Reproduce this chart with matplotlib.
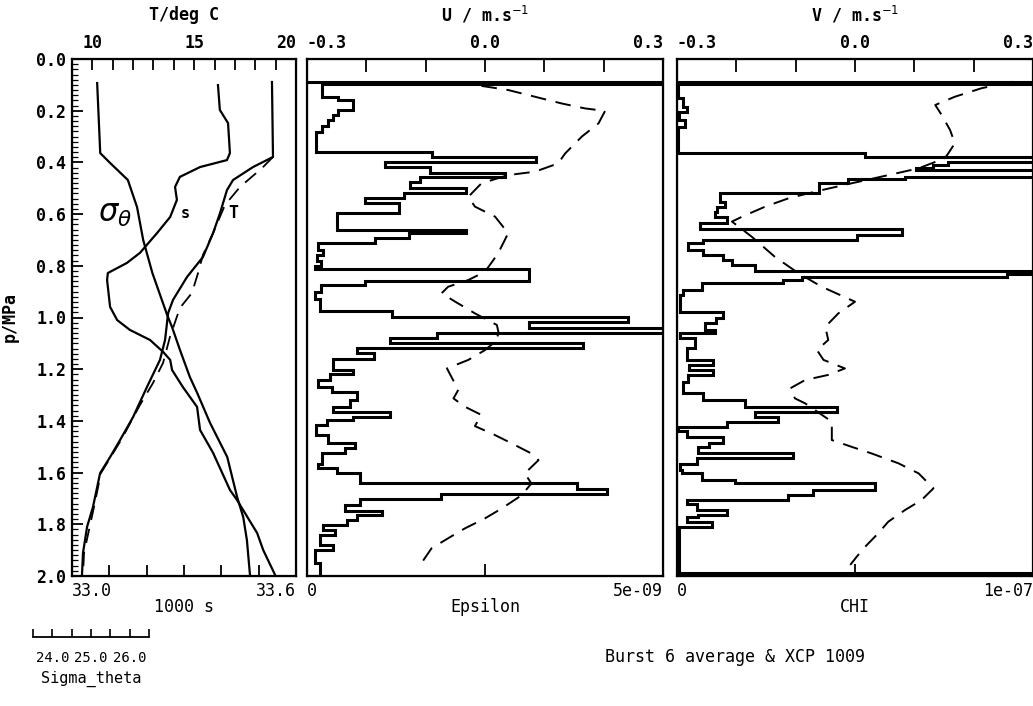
import numpy as np
import matplotlib.pyplot as plt

plt.rcParams['font.family'] = ['DejaVu Sans Mono']
plt.rcParams['mathtext.fontset'] = 'dejavusans'

# ---------------- left panel: CTD profiles (pressure in MPa) ----------------
p_T = [0.089, 0.379, 0.418, 0.468, 0.507, 0.596, 0.673, 0.766, 0.843, 0.932, 0.983,
       1.087, 1.164, 1.269, 1.385, 1.474, 1.540, 1.602, 1.733, 1.810, 1.911, 1.996]
T_ctd = [18.82, 18.87, 17.89, 16.91, 16.61, 16.27, 15.93, 15.43, 14.65, 13.96, 13.72,
         13.57, 13.32, 12.68, 12.00, 11.36, 10.87, 10.38, 10.03, 9.74, 9.54, 9.49]

p_Tx = [0.379, 0.422, 0.495, 0.565, 0.673, 0.758, 0.828, 0.905, 0.963, 1.075, 1.176,
        1.253, 1.338, 1.474, 1.602, 1.733, 1.911, 1.996]
T_xcp = [18.87, 18.33, 17.25, 16.51, 15.93, 15.43, 15.19, 14.89, 14.30, 13.81, 13.47,
         12.98, 12.34, 11.41, 10.42, 10.08, 9.59, 9.54]

p_S = [0.101, 0.197, 0.248, 0.364, 0.391, 0.418, 0.456, 0.495, 0.545, 0.611, 0.673,
       0.750, 0.789, 0.828, 0.855, 0.959, 1.010, 1.048, 1.087, 1.133, 1.164, 1.203,
       1.269, 1.346, 1.435, 1.524, 1.667, 1.706, 1.834, 1.899, 1.996]
S_ctd = [33.391, 33.396, 33.418, 33.423, 33.415, 33.343, 33.289, 33.276, 33.281, 33.263,
         33.228, 33.182, 33.147, 33.096, 33.094, 33.102, 33.121, 33.155, 33.209, 33.244,
         33.263, 33.268, 33.297, 33.335, 33.343, 33.378, 33.423, 33.442, 33.496, 33.512,
         33.544]

p_sig = [0.093, 0.364, 0.402, 0.468, 0.573, 0.700, 0.828, 0.990, 1.037, 1.126, 1.230,
         1.292, 1.408, 1.540, 1.694, 1.772, 1.861, 1.996]
sigma_theta = [23.61, 23.66, 23.82, 24.11, 24.26, 24.36, 24.51, 24.75, 24.83, 24.96, 25.12,
               25.24, 25.45, 25.73, 25.89, 25.99, 26.05, 26.10]

# ---------------- middle panel: epsilon (units 1e-9) and U ----------------
P_BOTTOM = 2.0
eps_top = [0.088, 0.098, 0.146, 0.159, 0.197, 0.217, 0.236, 0.259, 0.281, 0.358, 0.378,
           0.397, 0.417, 0.442, 0.455, 0.475, 0.500, 0.520, 0.539, 0.558, 0.597, 0.662,
           0.674, 0.694, 0.713, 0.740, 0.760, 0.780, 0.800, 0.814, 0.857, 0.874, 0.900,
           0.930, 0.974, 0.997, 1.016, 1.042, 1.061, 1.081, 1.100, 1.119, 1.136, 1.162,
           1.203, 1.219, 1.242, 1.268, 1.287, 1.319, 1.345, 1.364, 1.384, 1.397, 1.416,
           1.455, 1.487, 1.506, 1.526, 1.565, 1.584, 1.603, 1.642, 1.662, 1.683, 1.704,
           1.725, 1.747, 1.764, 1.783, 1.803, 1.822, 1.842, 1.880, 1.900, 1.950]
eps_val = [8.0, 0.21, 0.44, 0.65, 0.44, 0.37, 0.30, 0.21, 0.13, 1.75, 3.22,
           1.10, 1.73, 2.78, 1.59, 1.45, 2.24, 1.36, 0.82, 1.29, 0.42, 2.24,
           1.43, 0.96, 0.16, 0.23, 0.14, 0.20, 0.12, 3.11, 0.82, 0.20, 0.12,
           0.18, 1.19, 4.51, 3.11, 8.0, 1.82, 1.17, 3.88, 0.70, 0.95, 0.37,
           0.65, 0.33, 0.16, 0.35, 0.70, 0.61, 0.37, 1.17, 0.65, 0.28, 0.13,
           0.30, 0.68, 0.54, 0.21, 0.16, 0.42, 0.75, 3.79, 4.21, 1.89, 0.75,
           0.54, 1.05, 0.70, 0.56, 0.23, 0.40, 0.19, 0.37, 0.12, 0.18]

p_U = [0.104, 0.120, 0.146, 0.172, 0.191, 0.201, 0.249, 0.300, 0.365, 0.404, 0.436,
       0.449, 0.481, 0.533, 0.571, 0.610, 0.674, 0.752, 0.823, 0.855, 0.881, 0.906,
       0.939, 0.984, 1.029, 1.061, 1.094, 1.126, 1.164, 1.197, 1.280, 1.313, 1.345,
       1.377, 1.420, 1.455, 1.487, 1.526, 1.552, 1.603, 1.642, 1.687, 1.739, 1.777,
       1.816, 1.854, 1.893, 1.957]
U = [-0.006, 0.039, 0.084, 0.129, 0.168, 0.202, 0.191, 0.163, 0.135, 0.123, 0.084,
     0.039, -0.006, -0.028, -0.017, 0.017, 0.039, 0.022, 0.000, -0.028, -0.062, -0.073,
     -0.050, -0.017, 0.020, 0.023, 0.017, 0.000, -0.028, -0.064, -0.045, -0.053, -0.034,
     -0.006, -0.017, 0.017, 0.045, 0.078, 0.090, 0.067, 0.078, 0.062, 0.028, 0.000,
     -0.034, -0.062, -0.090, -0.109]

# ---------------- right panel: CHI (units 1e-7) and V ----------------
chi_top = [0.088, 0.098, 0.150, 0.186, 0.205, 0.236, 0.263, 0.362, 0.381, 0.397, 0.410,
           0.420, 0.430, 0.457, 0.466, 0.478, 0.517, 0.552, 0.571, 0.590, 0.610, 0.636,
           0.659, 0.681, 0.700, 0.713, 0.739, 0.758, 0.777, 0.797, 0.819, 0.832, 0.842,
           0.855, 0.868, 0.894, 0.913, 0.977, 1.003, 1.022, 1.048, 1.061, 1.081, 1.119,
           1.164, 1.184, 1.203, 1.222, 1.248, 1.293, 1.319, 1.345, 1.364, 1.384, 1.403,
           1.423, 1.440, 1.461, 1.487, 1.500, 1.526, 1.545, 1.565, 1.590, 1.603, 1.629,
           1.642, 1.667, 1.687, 1.706, 1.721, 1.745, 1.764, 1.771, 1.790, 1.809, 1.990]
chi_val = [1.3, 0.004, 0.019, 0.028, 0.006, 0.022, 0.004, 0.528, 1.3, 0.76, 0.72,
           0.67, 1.3, 0.64, 0.48, 0.40, 0.121, 0.136, 0.112, 0.107, 0.14, 0.065,
           0.631, 0.505, 0.075, 0.033, 0.075, 0.131, 0.154, 0.22, 1.3, 0.925, 0.35,
           0.299, 0.07, 0.019, 0.008, 0.131, 0.11, 0.08, 0.107, 0.01, 0.051, 0.028,
           0.103, 0.035, 0.103, 0.033, 0.019, 0.075, 0.192, 0.449, 0.22, 0.285, 0.14,
           0.005, 0.028, 0.131, 0.09, 0.061, 0.327, 0.056, 0.01, 0.015, 0.07, 0.164,
           0.556, 0.383, 0.313, 0.028, 0.056, 0.14, 0.061, 0.028, 0.098, 0.006, 1.3]

p_V = [0.088, 0.113, 0.146, 0.178, 0.217, 0.275, 0.326, 0.365, 0.384, 0.423, 0.481,
       0.513, 0.539, 0.571, 0.610, 0.629, 0.687, 0.765, 0.829, 0.881, 0.939, 0.984,
       1.036, 1.087, 1.126, 1.164, 1.197, 1.222, 1.242, 1.274, 1.313, 1.332, 1.403,
       1.474, 1.500, 1.526, 1.564, 1.603, 1.661, 1.706, 1.745, 1.790, 1.835, 1.887,
       1.925, 1.957]
V = [0.264, 0.213, 0.168, 0.135, 0.146, 0.160, 0.168, 0.157, 0.151, 0.107, -0.006,
     -0.067, -0.112, -0.151, -0.190, -0.207, -0.174, -0.135, -0.095, -0.056, 0.000, -0.028,
     -0.050, -0.045, -0.064, -0.053, -0.017, -0.045, -0.084, -0.109, -0.101, -0.084, -0.039,
     -0.039, -0.006, 0.028, 0.073, 0.107, 0.132, 0.112, 0.084, 0.056, 0.039, 0.017,
     0.003, -0.008]

sig_scale_ticks = [23.5, 24.0, 24.5, 25.0, 25.5, 26.0, 26.5]
sig_scale_labels = ['', '24.0', '', '25.0', '', '26.0', '']

# ---------------- layout ----------------
W, H = 1033, 706
fig = plt.figure(figsize=(W / 100, H / 100), dpi=100)


def panel(x0, y0, x1, y1):
    return fig.add_axes([x0 / W, 1 - y1 / H, (x1 - x0) / W, (y1 - y0) / H])


def frame(ax):
    for s in ax.spines.values():
        s.set_linewidth(1.6)
    ax.set_ylim(P_BOTTOM, 0.0)


def end_align(labels):
    labels[0].set_ha('left')
    labels[-1].set_ha('right')


DASH = (0, (8, 5))
BOLD = dict(fontweight='bold', fontsize=12)

# left panel
ax = panel(72, 59, 296, 576)
frame(ax)
ax.set_xlim(33.0, 33.6)
ax.set_xticks(np.round(np.arange(33.0, 33.61, 0.1), 1), ['33.0', '', '', '', '', '', '33.6'])
ax.tick_params(axis='x', direction='in', length=8, width=1.3, pad=4, labelsize=12)
end_align(ax.get_xticklabels())
ax.set_yticks(np.round(np.arange(0, 2.01, 0.2), 1))
ax.set_yticks(np.arange(0, 2.001, 0.02), minor=True)
ax.yaxis.set_major_formatter('{x:.1f}')
ax.tick_params(axis='y', which='major', direction='in', length=8, width=1.3, pad=4,
               labelsize=12)
ax.tick_params(axis='y', which='minor', direction='in', length=4, width=0.9)
for lab in ax.get_yticklabels():
    lab.set_fontweight('bold')
ax.set_ylabel('p/MPa', **BOLD)
ax.yaxis.set_label_coords(-0.237, 0.5)
ax.plot(S_ctd, p_S, color='k', lw=1.6)
ax.text(33.303, 0.596, 's', ha='center', va='center', fontsize=11, fontweight='bold')

axT = ax.twiny()
axT.set_xlim(9, 20)
axT.set_xticks(range(9, 21), ['', '10', '', '', '', '', '15', '', '', '', '', '20'])
axT.tick_params(axis='x', direction='in', length=8, width=1.3, pad=5, labelsize=12)
axT.get_xticklabels()[-1].set_ha('right')
for lab in axT.get_xticklabels():
    lab.set_fontweight('bold')
axT.plot(T_ctd, p_T, color='k', lw=1.6)
axT.plot(T_xcp, p_Tx, color='k', lw=1.3, ls=DASH)
axT.text(16.91, 0.596, 'T', ha='center', va='center', fontsize=12, fontweight='bold')

axs = ax.twiny()
axs.set_xlim(23.2, 26.85)
axs.axis('off')
axs.plot(sigma_theta, p_sig, color='k', lw=1.6)
axs.text(23.90, 0.60, r'$\sigma_\theta$', ha='center', va='center', fontsize=22)

# middle panel
ax2 = panel(306.7, 59, 663.3, 576)
frame(ax2)
ax2.set_xlim(0, 5)
ax2.set_xticks([0, 2.5, 5], ['0', '', '5e-09'])
ax2.tick_params(axis='x', direction='in', length=9, width=1.3, pad=4, labelsize=12)
end_align(ax2.get_xticklabels())
ax2.set_yticks([])
ax2.stairs(eps_val, eps_top + [P_BOTTOM], orientation='horizontal', baseline=0,
           color='k', lw=2.2)

ax2u = ax2.twiny()
ax2u.set_xlim(-0.3, 0.3)
ax2u.set_xticks(np.round(np.arange(-0.3, 0.31, 0.1), 1),
                ['-0.3', '', '', '0.0', '', '', '0.3'])
ax2u.tick_params(axis='x', direction='in', length=9, width=1.3, pad=5, labelsize=12)
end_align(ax2u.get_xticklabels())
for lab in ax2u.get_xticklabels():
    lab.set_fontweight('bold')
ax2u.plot(U, p_U, color='k', lw=1.4, ls=DASH)

# right panel
ax3 = panel(676.7, 59, 1033.3, 576)
frame(ax3)
ax3.set_xlim(0, 1)
ax3.set_xticks([0, 0.5, 1], ['0', '', '1e-07'])
ax3.tick_params(axis='x', direction='in', length=9, width=1.3, pad=4, labelsize=12)
end_align(ax3.get_xticklabels())
ax3.set_yticks([])
ax3.stairs(chi_val, chi_top + [P_BOTTOM], orientation='horizontal', baseline=0,
           color='k', lw=2.2)

ax3v = ax3.twiny()
ax3v.set_xlim(-0.3, 0.3)
ax3v.set_xticks(np.round(np.arange(-0.3, 0.31, 0.1), 1),
                ['-0.3', '', '', '0.0', '', '', '0.3'])
ax3v.tick_params(axis='x', direction='in', length=9, width=1.3, pad=5, labelsize=12)
end_align(ax3v.get_xticklabels())
for lab in ax3v.get_xticklabels():
    lab.set_fontweight('bold')
ax3v.plot(V, p_V, color='k', lw=1.4, ls=DASH)

# sigma_theta scale bar
axb = panel(33, 600, 149, 637)
axb.patch.set_visible(False)
for side in ['top', 'left', 'right']:
    axb.spines[side].set_visible(False)
axb.spines['bottom'].set_linewidth(1.3)
axb.set_xlim(23.5, 26.5)
axb.set_yticks([])
axb.set_xticks(sig_scale_ticks, sig_scale_labels)
axb.tick_params(axis='x', direction='in', length=6, width=1.2, pad=10, labelsize=10)
axb.set_xlabel('Sigma_theta', fontsize=11, labelpad=4)

# titles and captions
fig.text(184 / W, 1 - 15 / H, 'T/deg C', ha='center', va='center', **BOLD)
fig.text(485 / W, 1 - 15 / H, r'U / m.s$^{-1}$', ha='center', va='center', **BOLD)
fig.text(855 / W, 1 - 15 / H, r'V / m.s$^{-1}$', ha='center', va='center', **BOLD)
fig.text(184 / W, 1 - 607 / H, '1000 s', ha='center', va='center', fontsize=12)
fig.text(485 / W, 1 - 607 / H, 'Epsilon', ha='center', va='center', fontsize=12)
fig.text(855 / W, 1 - 607 / H, 'CHI', ha='center', va='center', fontsize=12)
fig.text(735 / W, 1 - 657 / H, 'Burst 6 average & XCP 1009', ha='center', va='center',
         fontsize=12)

fig.savefig('out.png', dpi=100)
